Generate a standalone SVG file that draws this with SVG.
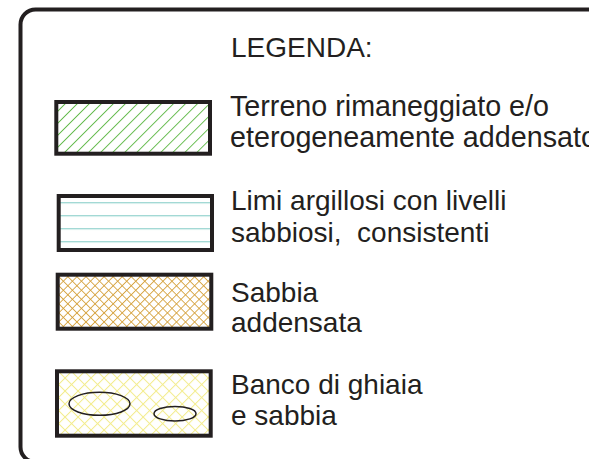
<svg xmlns="http://www.w3.org/2000/svg" width="589" height="459" viewBox="0 0 589 459">
<style>
.frame{fill:none;stroke:#231f20;stroke-width:4}
.box{stroke:#231f20;stroke-width:4}
.lbl{font-family:"Liberation Sans",Arial,sans-serif;font-size:28px;fill:#231f20;white-space:pre}
.big{font-size:28.7px}
.ell{fill:none;stroke:#231f20;stroke-width:1.5}
</style>
<defs>
<pattern id="pGreen" patternUnits="userSpaceOnUse" width="8.5" height="8.5" patternTransform="rotate(45)">
<line x1="0" y1="0" x2="0" y2="8.5" stroke="#5fb946" stroke-width="1.8"/>
</pattern>
<pattern id="pBlue" patternUnits="userSpaceOnUse" x="0" y="7.2" width="20" height="13">
<line x1="0" y1="0.5" x2="20" y2="0.5" stroke="#8ccfca" stroke-width="1.3"/>
</pattern>
<pattern id="pOrange" patternUnits="userSpaceOnUse" width="6.4" height="6.4" patternTransform="rotate(45)">
<line x1="0" y1="0" x2="0" y2="6.4" stroke="#d49f38" stroke-width="1.7"/>
<line x1="0" y1="0" x2="6.4" y2="0" stroke="#d49f38" stroke-width="1.7"/>
</pattern>
<pattern id="pYellow" patternUnits="userSpaceOnUse" width="9.2" height="9.2" patternTransform="rotate(45)">
<line x1="0" y1="0" x2="0" y2="9.2" stroke="#f3ec8e" stroke-width="2"/>
<line x1="0" y1="0" x2="9.2" y2="0" stroke="#f3ec8e" stroke-width="2"/>
</pattern>
</defs>
<rect width="589" height="459" fill="#ffffff"/>
<g id="frame">
<rect class="frame" x="20.5" y="9.5" width="600" height="452.5" rx="15" ry="15"/>
</g>
<g id="title">
<text class="lbl" x="231" y="57">LEGENDA:</text>
</g>
<g id="item1">
<rect class="box" x="56.3" y="102" width="153.7" height="51.7" fill="url(#pGreen)"/>
<text class="lbl big" x="230" y="116">Terreno rimaneggiato e/o</text>
<text class="lbl big" x="230" y="147">eterogeneamente addensato</text>
</g>
<g id="item2">
<rect class="box" x="58.7" y="196" width="153.3" height="54" fill="url(#pBlue)"/>
<text class="lbl" x="231" y="210">Limi argillosi con livelli</text>
<text class="lbl" x="231" y="241.5" xml:space="preserve">sabbiosi,  consistenti</text>
</g>
<g id="item3">
<rect class="box" x="57.7" y="274.7" width="153.6" height="54" fill="url(#pOrange)"/>
<text class="lbl" x="231" y="301.5">Sabbia</text>
<text class="lbl" x="231" y="332">addensata</text>
</g>
<g id="item4">
<rect class="box" x="57" y="371.3" width="153.7" height="64.4" fill="url(#pYellow)"/>
<ellipse class="ell" cx="99.5" cy="403.8" rx="30.5" ry="11.5"/>
<ellipse class="ell" cx="175" cy="413.7" rx="21" ry="7.3"/>
<text class="lbl" x="231" y="394">Banco di ghiaia</text>
<text class="lbl" x="231" y="425">e sabbia</text>
</g>
<g id="connectors"></g>
</svg>
